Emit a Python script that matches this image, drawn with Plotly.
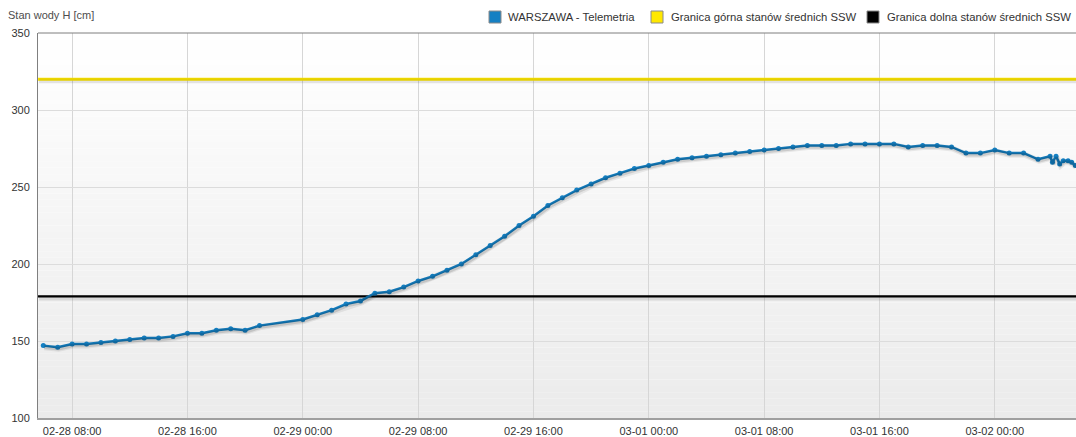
import plotly.graph_objects as go

# ---------------- data ----------------
times = [
    "2012-02-28 06:00", "2012-02-28 07:00", "2012-02-28 08:00", "2012-02-28 09:00",
    "2012-02-28 10:00", "2012-02-28 11:00", "2012-02-28 12:00", "2012-02-28 13:00",
    "2012-02-28 14:00", "2012-02-28 15:00", "2012-02-28 16:00", "2012-02-28 17:00",
    "2012-02-28 18:00", "2012-02-28 19:00", "2012-02-28 20:00", "2012-02-28 21:00",
    "2012-02-29 00:00", "2012-02-29 01:00", "2012-02-29 02:00", "2012-02-29 03:00",
    "2012-02-29 04:00", "2012-02-29 05:00", "2012-02-29 06:00", "2012-02-29 07:00",
    "2012-02-29 08:00", "2012-02-29 09:00", "2012-02-29 10:00", "2012-02-29 11:00",
    "2012-02-29 12:00", "2012-02-29 13:00", "2012-02-29 14:00", "2012-02-29 15:00",
    "2012-02-29 16:00", "2012-02-29 17:00", "2012-02-29 18:00", "2012-02-29 19:00",
    "2012-02-29 20:00", "2012-02-29 21:00", "2012-02-29 22:00", "2012-02-29 23:00",
    "2012-03-01 00:00", "2012-03-01 01:00", "2012-03-01 02:00", "2012-03-01 03:00",
    "2012-03-01 04:00", "2012-03-01 05:00", "2012-03-01 06:00", "2012-03-01 07:00",
    "2012-03-01 08:00", "2012-03-01 09:00", "2012-03-01 10:00", "2012-03-01 11:00",
    "2012-03-01 12:00", "2012-03-01 13:00", "2012-03-01 14:00", "2012-03-01 15:00",
    "2012-03-01 16:00", "2012-03-01 17:00", "2012-03-01 18:00", "2012-03-01 19:00",
    "2012-03-01 20:00", "2012-03-01 21:00", "2012-03-01 22:00", "2012-03-01 23:00",
    "2012-03-02 00:00", "2012-03-02 01:00", "2012-03-02 02:00", "2012-03-02 03:00",
    "2012-03-02 03:50", "2012-03-02 04:00", "2012-03-02 04:15", "2012-03-02 04:30",
    "2012-03-02 04:45", "2012-03-02 05:05", "2012-03-02 05:20", "2012-03-02 05:35",
]
levels = [
    147, 146, 148, 148, 149, 150, 151, 152, 152, 153, 155, 155, 157, 158, 157, 160,
    164, 167, 170, 174, 176, 181, 182, 185, 189, 192, 196, 200, 206, 212, 218, 225,
    231, 238, 243, 248, 252, 256, 259, 262,
    264, 266, 268, 269, 270, 271, 272, 273, 274, 275, 276, 277, 277, 277, 278, 278,
    278, 278, 276, 277, 277, 276, 272, 272,
    274, 272, 272, 268, 270, 266, 270, 265, 267, 267, 266, 264,
]
upper_ssw = 320
lower_ssw = 179
series_names = ["WARSZAWA - Telemetria",
                "Granica górna stanów średnich SSW",
                "Granica dolna stanów średnich SSW"]
series_colors = ["#1580c3", "#ffe800", "#000000"]
y_title = "Stan wody H [cm]"
x_range = ["2012-02-28 05:38", "2012-03-02 05:38"]
x_range_shadow = ["2012-02-28 05:34", "2012-03-02 05:34"]
y_range = [100, 350]
y_range_shadow = [101, 351]

# ---------------- layout helpers ----------------
W, H = 1076, 437
ML, MR, MT, MB = 38, 0, 33, 19
PW, PH = W - ML - MR, H - MT - MB
FONT = "Liberation Sans, Arial, sans-serif"


def px(x):
    return (x - ML) / PW


def py(y):
    return (H - MB - y) / PH


fig = go.Figure()

# shadows (same data, drawn on slightly shifted hidden axes)
for yv in (upper_ssw, lower_ssw):
    fig.add_trace(go.Scatter(x=x_range, y=[yv, yv], mode="lines",
                             line=dict(color="rgba(0,0,0,0.10)", width=5),
                             xaxis="x2", yaxis="y2", hoverinfo="skip", showlegend=False))
fig.add_trace(go.Scatter(x=times, y=levels, mode="lines",
                         line=dict(color="rgba(0,0,0,0.07)", width=6),
                         xaxis="x2", yaxis="y2", hoverinfo="skip", showlegend=False))
fig.add_trace(go.Scatter(x=times, y=levels, mode="lines",
                         line=dict(color="rgba(0,0,0,0.12)", width=3.5),
                         xaxis="x2", yaxis="y2", hoverinfo="skip", showlegend=False))

# threshold lines
fig.add_trace(go.Scatter(x=x_range, y=[lower_ssw, lower_ssw], mode="lines",
                         name=series_names[2], line=dict(color=series_colors[2], width=2.2),
                         showlegend=False))
fig.add_trace(go.Scatter(x=x_range, y=[upper_ssw, upper_ssw], mode="lines",
                         name=series_names[1], line=dict(color=series_colors[1], width=3),
                         showlegend=False))
# main series
fig.add_trace(go.Scatter(x=times, y=levels, mode="lines+markers",
                         name=series_names[0],
                         line=dict(color=series_colors[0], width=2.5),
                         marker=dict(color=series_colors[0], size=5),
                         showlegend=False))

shapes = []
# vertical gradient background
n = 60
for i in range(n):
    t = (i + 0.5) / n
    c = int(round(235 + (255 - 235) * t))
    shapes.append(dict(type="rect", xref="paper", yref="paper",
                       x0=0, x1=1, y0=i / n, y1=(i + 1) / n,
                       fillcolor=f"rgb({c},{c},{c})", line=dict(width=0), layer="below"))
# top border
shapes.append(dict(type="line", xref="paper", yref="paper", x0=0, x1=1, y0=1, y1=1,
                   line=dict(color="#7f7f7f", width=1)))

# manual legend
legend_sq = [489, 651, 867]
legend_txt = [506, 669, 885]
annotations = []
for i in range(3):
    shapes.append(dict(type="rect", xref="paper", yref="paper",
                       x0=px(legend_sq[i]), x1=px(legend_sq[i] + 12),
                       y0=py(23), y1=py(11),
                       fillcolor=series_colors[i], line=dict(color="#8a8a8a", width=1)))
    annotations.append(dict(xref="paper", yref="paper", x=px(legend_txt[i]), y=py(17),
                            xanchor="left", yanchor="middle", showarrow=False,
                            text=series_names[i],
                            font=dict(family=FONT, size=11.3, color="#333333")))
annotations.append(dict(xref="paper", yref="paper", x=px(6), y=py(15),
                        xanchor="left", yanchor="middle", showarrow=False,
                        text=y_title, font=dict(family=FONT, size=11, color="#4d4d4d")))

fig.update_layout(
    width=W, height=H,
    margin=dict(l=ML, r=MR, t=MT, b=MB, pad=0, autoexpand=False),
    paper_bgcolor="white", plot_bgcolor="white",
    font=dict(family=FONT, size=11, color="#333333"),
    showlegend=False,
    shapes=shapes, annotations=annotations,
    xaxis=dict(range=x_range, type="date", tick0="2012-02-28 00:00", dtick=8 * 3600 * 1000,
               tickformat="%m-%d %H:%M", showgrid=True, gridcolor="#d6d6d6", gridwidth=1,
               showline=True, linecolor="#a0a0a0", linewidth=2,
               ticks="outside", ticklen=2, tickcolor="rgba(0,0,0,0)",
               tickfont=dict(family=FONT, size=11, color="#333333"),
               zeroline=False, fixedrange=True),
    yaxis=dict(range=y_range, dtick=50, tick0=100, showgrid=True, gridcolor="#dcdcdc",
               gridwidth=1, showline=True, linecolor="#7f7f7f", linewidth=1,
               ticks="outside", ticklen=5, tickcolor="rgba(0,0,0,0)",
               tickfont=dict(family=FONT, size=11, color="#333333"),
               zeroline=False, fixedrange=True),
    xaxis2=dict(range=x_range_shadow, type="date", overlaying="x", visible=False,
                fixedrange=True),
    yaxis2=dict(range=y_range_shadow, overlaying="y", visible=False, fixedrange=True),
)

fig.write_html("out.html", config={"displayModeBar": False},
               post_script="document.body.style.margin='0';")
